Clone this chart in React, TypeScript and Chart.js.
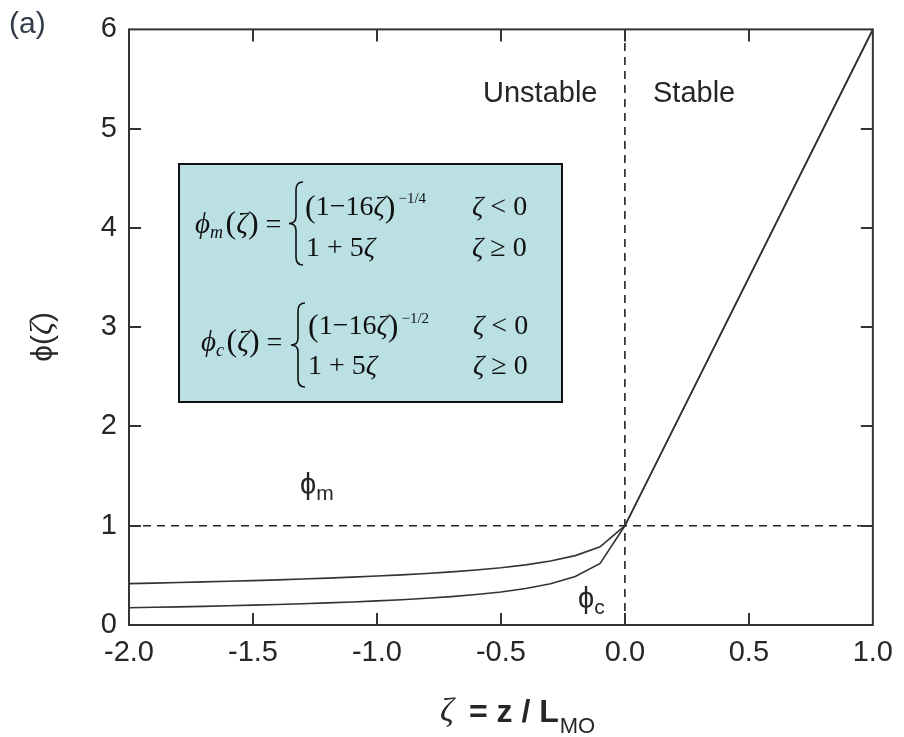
import { useEffect, useRef } from 'react';
import { Chart, registerables } from 'chart.js';

Chart.register(...registerables);

// ---- data ----
const zeta = [-2.0, -1.9, -1.8, -1.7, -1.6, -1.5, -1.4, -1.3, -1.2, -1.1, -1.0, -0.9, -0.8, -0.7, -0.6, -0.5, -0.4, -0.3, -0.2, -0.1, 0.0, 1.0];
const phiM = [0.417, 0.422, 0.428, 0.434, 0.440, 0.447, 0.455, 0.463, 0.472, 0.482, 0.493, 0.505, 0.519, 0.535, 0.554, 0.577, 0.606, 0.644, 0.699, 0.788, 1.0, 6.0];
const phiC = [0.174, 0.179, 0.183, 0.188, 0.194, 0.200, 0.207, 0.214, 0.223, 0.232, 0.243, 0.255, 0.269, 0.286, 0.307, 0.333, 0.368, 0.415, 0.488, 0.620, 1.0, 6.0];
const xTickValues = [-2.0, -1.5, -1.0, -0.5, 0.0, 0.5, 1.0];
const yTickValues = [0, 1, 2, 3, 4, 5, 6];
const neutralZeta = [0, 0];
const neutralZetaSpan = [0, 6];
const unitPhiSpan = [-2, 1];
const unitPhi = [1, 1];

const SANS = "'Liberation Sans', Arial, sans-serif";
const SERIF = "'Liberation Serif', 'Times New Roman', serif";
const INK = '#262626';

type Part = [string, string, number?];

function drawRun(ctx: CanvasRenderingContext2D, parts: Part[], x: number, y: number) {
  let cx = x;
  for (const [text, font, dy] of parts) {
    ctx.font = font;
    ctx.fillText(text, cx, y + (dy || 0));
    cx += ctx.measureText(text).width;
  }
  return cx;
}

function drawBrace(ctx: CanvasRenderingContext2D, x: number, top: number, bottom: number, w: number) {
  const mid = (top + bottom) / 2;
  const xm = x + w * 0.5;
  ctx.beginPath();
  ctx.moveTo(x + w, top);
  ctx.quadraticCurveTo(xm, top, xm, top + 8);
  ctx.lineTo(xm, mid - 7);
  ctx.quadraticCurveTo(xm, mid, x, mid);
  ctx.quadraticCurveTo(xm, mid, xm, mid + 7);
  ctx.lineTo(xm, bottom - 8);
  ctx.quadraticCurveTo(xm, bottom, x + w, bottom);
  ctx.stroke();
}

const decorPlugin = {
  id: 'decor',
  afterDatasetsDraw(chart: any) {
    const ctx: CanvasRenderingContext2D = chart.ctx;
    const { left, right, top, bottom } = chart.chartArea;
    const xs = chart.scales.x;
    const ys = chart.scales.y;
    ctx.save();
    // frame
    ctx.strokeStyle = '#333';
    ctx.lineWidth = 2;
    ctx.strokeRect(left, top, right - left, bottom - top);
    // inward ticks
    const tl = 12;
    ctx.beginPath();
    xTickValues.slice(1, -1).forEach((v) => {
      const px = Math.round(xs.getPixelForValue(v));
      ctx.moveTo(px, bottom);
      ctx.lineTo(px, bottom - tl);
      ctx.moveTo(px, top);
      ctx.lineTo(px, top + tl);
    });
    yTickValues.slice(1, -1).forEach((v) => {
      const py = Math.round(ys.getPixelForValue(v));
      ctx.moveTo(left, py);
      ctx.lineTo(left + tl, py);
      ctx.moveTo(right, py);
      ctx.lineTo(right - tl, py);
    });
    ctx.stroke();

    ctx.fillStyle = INK;
    ctx.textBaseline = 'alphabetic';
    ctx.textAlign = 'left';

    // panel letter
    ctx.font = `30px ${SANS}`;
    ctx.fillStyle = '#333a4a';
    ctx.fillText('(a)', 9, 33);
    ctx.fillStyle = INK;

    // regime labels
    ctx.font = `29px ${SANS}`;
    ctx.fillText('Unstable', 483, 102);
    ctx.fillText('Stable', 653, 102);

    // curve labels
    drawRun(ctx, [['ϕ', `29px ${SANS}`], ['m', `21px ${SANS}`, 6]], 300, 494);
    drawRun(ctx, [['ϕ', `29px ${SANS}`], ['c', `21px ${SANS}`, 6]], 578, 608);

    // formula box
    ctx.fillStyle = '#bae0e4';
    ctx.fillRect(179, 164, 383, 238);
    ctx.strokeStyle = '#111';
    ctx.lineWidth = 2;
    ctx.strokeRect(179, 164, 383, 238);
    ctx.fillStyle = '#111';
    const it = (s: number) => `italic ${s}px ${SERIF}`;
    const rm = (s: number) => `${s}px ${SERIF}`;

    // phi_m
    drawRun(ctx, [['ϕ', it(29)], ['m', it(18), 5], [' ', rm(10)], ['(', rm(32)], ['ζ', it(29)], [')', rm(32)], [' = ', rm(28)]], 195, 233);
    ctx.lineWidth = 1.6;
    drawBrace(ctx, 289, 182, 265, 14);
    let e = drawRun(ctx, [['(', rm(32), 2], ['1−16', rm(28)], ['ζ', it(28)], [')', rm(32), 2]], 305, 215);
    drawRun(ctx, [['−1/4', rm(15)]], e + 3, 203);
    drawRun(ctx, [['ζ', it(28)], [' < 0', rm(28)]], 472, 215);
    drawRun(ctx, [['1 + 5', rm(28)], ['ζ', it(28)]], 306, 256);
    drawRun(ctx, [['ζ', it(28)], [' ≥ 0', rm(28)]], 472, 256);

    // phi_c
    drawRun(ctx, [['ϕ', it(29)], ['c', it(18), 5], [' ', rm(10)], ['(', rm(32)], ['ζ', it(29)], [')', rm(32)], [' = ', rm(28)]], 201, 351);
    drawBrace(ctx, 291, 303, 387, 14);
    e = drawRun(ctx, [['(', rm(32), 2], ['1−16', rm(28)], ['ζ', it(28)], [')', rm(32), 2]], 308, 334);
    drawRun(ctx, [['−1/2', rm(15)]], e + 3, 323);
    drawRun(ctx, [['ζ', it(28)], [' < 0', rm(28)]], 473, 334);
    drawRun(ctx, [['1 + 5', rm(28)], ['ζ', it(28)]], 308, 374);
    drawRun(ctx, [['ζ', it(28)], [' ≥ 0', rm(28)]], 473, 374);

    // x-axis title
    ctx.fillStyle = INK;
    e = drawRun(ctx, [['ζ', `italic 34px ${SERIF}`]], 440, 721);
    e = drawRun(ctx, [['= z / L', `bold 32px ${SANS}`]], 469, 722);
    drawRun(ctx, [['MO', `22px ${SANS}`]], e + 1, 733);

    // y-axis title (rotated)
    ctx.save();
    ctx.translate(44, 337);
    ctx.rotate(-Math.PI / 2);
    ctx.textBaseline = 'middle';
    const yParts: Part[] = [['ϕ', `30px ${SANS}`], ['(', `30px ${SANS}`], ['ζ', `italic 32px ${SERIF}`], [')', `30px ${SANS}`]];
    let total = 0;
    for (const [t, f] of yParts) { ctx.font = f; total += ctx.measureText(t).width; }
    drawRun(ctx, yParts, -total / 2, 0);
    ctx.restore();

    ctx.restore();
  },
};

export default function App() {
  const ref = useRef<HTMLCanvasElement | null>(null);
  useEffect(() => {
    document.body.style.margin = '0';
    const canvas = ref.current!;
    const lineStyle = { borderColor: '#333', borderWidth: 1.6, pointRadius: 0, showLine: true, fill: false, tension: 0 };
    const dashStyle = { borderColor: '#222', borderWidth: 1.6, pointRadius: 0, showLine: true, fill: false, borderDash: [8, 6] };
    const chart = new Chart(canvas, {
      type: 'scatter',
      data: {
        datasets: [
          { label: 'φm', data: zeta.map((x, i) => ({ x, y: phiM[i] })), ...lineStyle },
          { label: 'φc', data: zeta.map((x, i) => ({ x, y: phiC[i] })), ...lineStyle },
          { label: 'neutral', data: neutralZeta.map((x, i) => ({ x, y: neutralZetaSpan[i] })), ...dashStyle },
          { label: 'unity', data: unitPhiSpan.map((x, i) => ({ x, y: unitPhi[i] })), ...dashStyle },
        ],
      } as any,
      options: {
        animation: false,
        responsive: false,
        layout: { padding: { left: 0, right: 24, top: 21, bottom: 0 } },
        plugins: { legend: { display: false }, tooltip: { enabled: false }, title: { display: false } },
        scales: {
          x: {
            type: 'linear',
            min: -2,
            max: 1,
            afterFit: (s: any) => { s.height = 112; },
            afterBuildTicks: (s: any) => { s.ticks = xTickValues.map((v) => ({ value: v })); },
            ticks: { callback: (v: any) => Number(v).toFixed(1), font: { size: 29, family: SANS }, color: INK, padding: 11, maxRotation: 0 },
            grid: { display: false, drawTicks: false },
            border: { display: false },
          },
          y: {
            type: 'linear',
            min: 0,
            max: 6,
            afterFit: (s: any) => { s.width = 129; },
            afterBuildTicks: (s: any) => { s.ticks = yTickValues.map((v) => ({ value: v })); },
            ticks: { font: { size: 29, family: SANS }, color: INK, padding: 12 },
            grid: { display: false, drawTicks: false },
            border: { display: false },
          },
        },
      } as any,
      plugins: [decorPlugin],
    });
    return () => chart.destroy();
  }, []);
  return <canvas ref={ref} width={904} height={737} style={{ display: 'block' }} />;
}
